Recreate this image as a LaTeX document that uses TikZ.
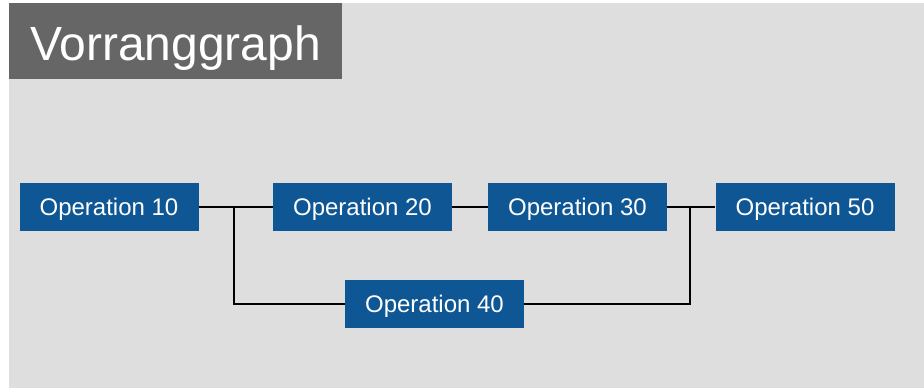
\documentclass[tikz,border=0pt]{standalone}
\usepackage{fontspec}
\setmainfont{Liberation Sans}
\definecolor{bg}{HTML}{DEDEDE}
\definecolor{titlebg}{HTML}{666666}
\definecolor{opblue}{HTML}{0F5794}
\begin{document}
\begin{tikzpicture}[x=1pt,y=-1pt,
  opbox/.style={fill=opblue,text=white,minimum width=179pt,minimum height=48pt,inner sep=0pt,text height=17.2pt,text depth=0pt,font=\fontsize{24}{26}\selectfont},
  conn/.style={draw=black,line width=1.8pt}]
\fill[white] (0,0) rectangle (924,388);
\useasboundingbox (0,0) rectangle (924,388);
\fill[bg] (9,3) rectangle (924,388);
\fill[titlebg] (9,3) rectangle (342,79);
\node[text=white,inner sep=0pt,anchor=base west,font=\fontsize{48}{50}\selectfont] (title) at (30,60) {Vorranggraph};
\node[opbox] (op10) at (109,207) {Operation 10};
\node[opbox] (op20) at (362.5,207) {Operation 20};
\node[opbox] (op30) at (577.5,207) {Operation 30};
\node[opbox] (op50) at (805,207) {Operation 50};
\node[opbox] (op40) at (434.5,304) {Operation 40};
\coordinate (j1) at (234,207);
\coordinate (j2) at (690,207);
\draw[conn] (op10.east) -- (j1) -- (op20.west);
\draw[conn] (j1) |- (op40.west);
\draw[conn] (op20.east) -- (op30.west);
\draw[conn] (op30.east) -- (op50.west);
\draw[conn] (j2) |- (op40.east);
\end{tikzpicture}
\end{document}
